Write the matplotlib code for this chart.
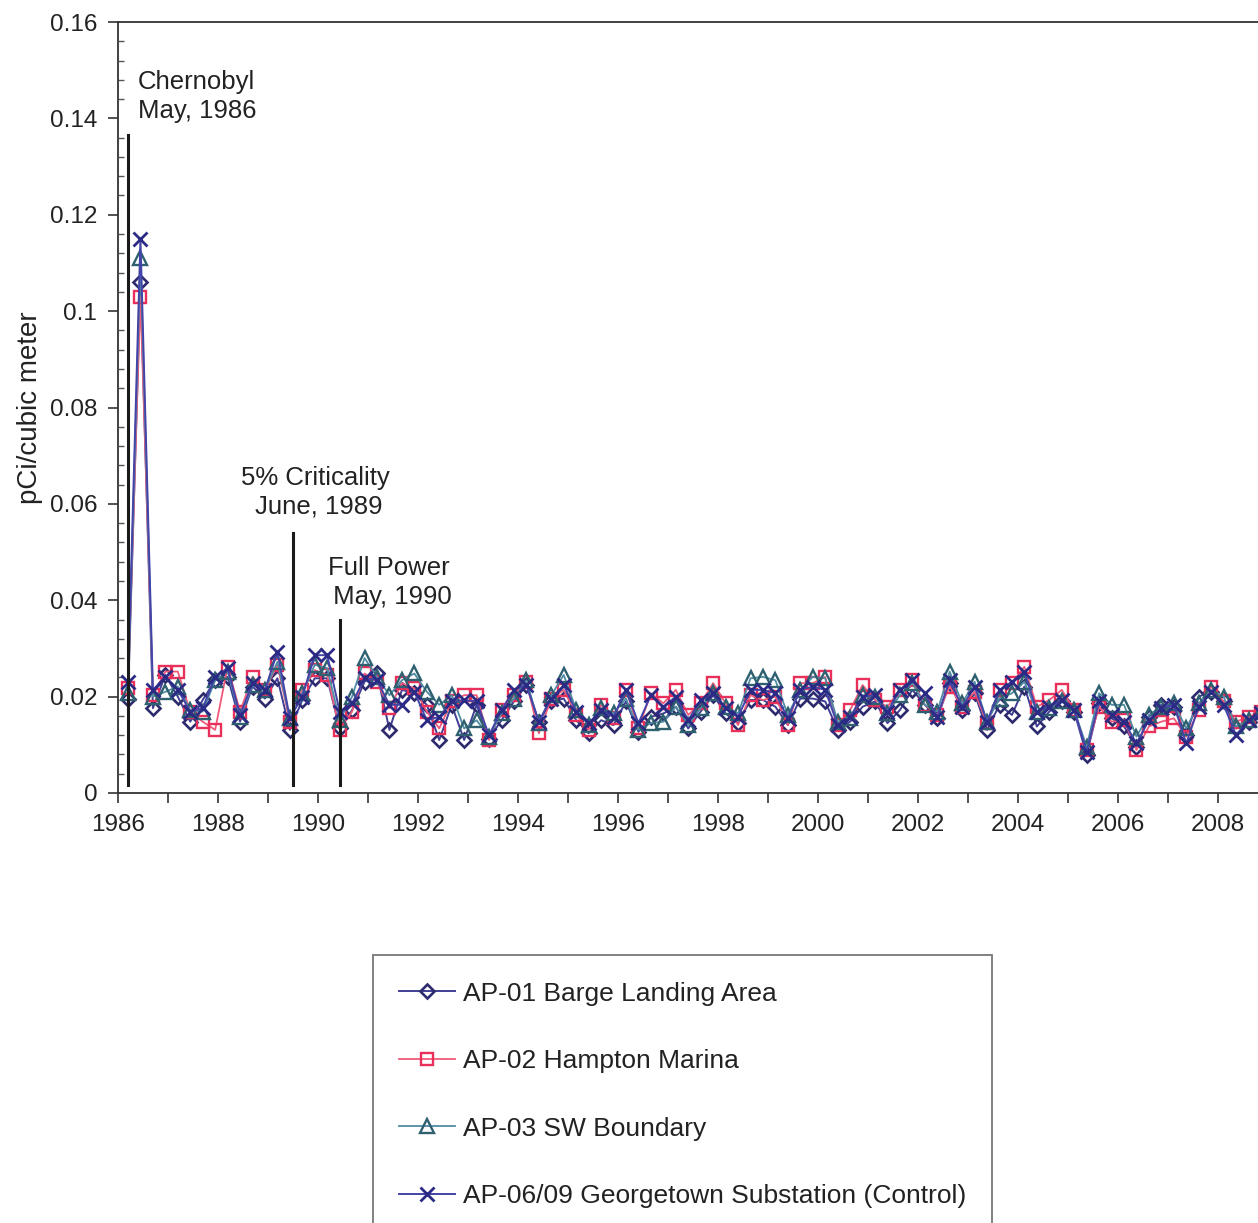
import numpy as np
import matplotlib
matplotlib.use("Agg")
from matplotlib import pyplot as plt
from matplotlib.ticker import MultipleLocator

plt.rcParams['font.family'] = ['Liberation Sans', 'DejaVu Sans']

# quarterly sampling dates (decimal years)
n_pts = 92
years = 1986.2 + 0.249 * np.arange(n_pts)

ap01 = [0.0196, 0.106, 0.0176, 0.0245, 0.0200, 0.0148, 0.0193, 0.0234, 0.0241, 0.0148,
        0.0221, 0.0196, 0.0238, 0.0131, 0.0193, 0.0238, 0.0238, 0.0134, 0.0172, 0.0231,
        0.0248, 0.0131, 0.0214, 0.0207, 0.0183, 0.0110, 0.0183, 0.0110, 0.0183, 0.0113,
        0.0151, 0.0190, 0.0224, 0.0148, 0.0190, 0.0196, 0.0151, 0.0124, 0.0151, 0.0141,
        0.0190, 0.0127, 0.0158, 0.0165, 0.0179, 0.0134, 0.0169, 0.0203, 0.0165, 0.0145,
        0.0193, 0.0193, 0.0179, 0.0141, 0.0196, 0.0196, 0.0190, 0.0131, 0.0148, 0.0179,
        0.0190, 0.0145, 0.0172, 0.0214, 0.0183, 0.0155, 0.0228, 0.0172, 0.0207, 0.0131,
        0.0183, 0.0162, 0.0221, 0.0138, 0.0169, 0.0190, 0.0169, 0.0079, 0.0186, 0.0155,
        0.0138, 0.0096, 0.0158, 0.0183, 0.0179, 0.0120, 0.0200, 0.0210, 0.0190, 0.0134,
        0.0148, 0.0165]
ap02 = [0.0217, 0.103, 0.0203, 0.0252, 0.0252, 0.0169, 0.0148, 0.0131, 0.0262, 0.0169,
        0.0241, 0.0214, 0.0266, 0.0148, 0.0214, 0.0255, 0.0245, 0.0131, 0.0169, 0.0248,
        0.0231, 0.0176, 0.0228, 0.0217, 0.0169, 0.0134, 0.0190, 0.0203, 0.0203, 0.0110,
        0.0172, 0.0203, 0.0231, 0.0124, 0.0196, 0.0214, 0.0162, 0.0131, 0.0183, 0.0155,
        0.0214, 0.0134, 0.0207, 0.0186, 0.0214, 0.0162, 0.0186, 0.0228, 0.0186, 0.0141,
        0.0203, 0.0193, 0.0200, 0.0141, 0.0228, 0.0228, 0.0241, 0.0141, 0.0172, 0.0224,
        0.0193, 0.0179, 0.0214, 0.0234, 0.0183, 0.0162, 0.0221, 0.0179, 0.0210, 0.0145,
        0.0214, 0.0228, 0.0262, 0.0179, 0.0193, 0.0214, 0.0172, 0.0089, 0.0179, 0.0148,
        0.0151, 0.0089, 0.0138, 0.0148, 0.0155, 0.0117, 0.0172, 0.0221, 0.0190, 0.0148,
        0.0158, 0.0169]
ap03 = [0.0207, 0.111, 0.0200, 0.0210, 0.0221, 0.0172, 0.0169, 0.0234, 0.0252, 0.0158,
        0.0224, 0.0214, 0.0272, 0.0155, 0.0207, 0.0266, 0.0259, 0.0151, 0.0200, 0.0280,
        0.0241, 0.0203, 0.0234, 0.0248, 0.0210, 0.0183, 0.0203, 0.0134, 0.0151, 0.0117,
        0.0165, 0.0196, 0.0234, 0.0145, 0.0203, 0.0245, 0.0172, 0.0141, 0.0176, 0.0165,
        0.0196, 0.0131, 0.0145, 0.0148, 0.0179, 0.0141, 0.0176, 0.0207, 0.0179, 0.0165,
        0.0238, 0.0241, 0.0234, 0.0162, 0.0214, 0.0241, 0.0238, 0.0148, 0.0155, 0.0203,
        0.0200, 0.0165, 0.0203, 0.0228, 0.0183, 0.0169, 0.0252, 0.0186, 0.0231, 0.0148,
        0.0196, 0.0207, 0.0231, 0.0169, 0.0176, 0.0190, 0.0172, 0.0096, 0.0207, 0.0183,
        0.0183, 0.0117, 0.0162, 0.0179, 0.0186, 0.0134, 0.0186, 0.0214, 0.0200, 0.0138,
        0.0151, 0.0169]
ap06 = [0.0231, 0.115, 0.0214, 0.0241, 0.0214, 0.0169, 0.0176, 0.0241, 0.0259, 0.0162,
        0.0228, 0.0214, 0.0293, 0.0155, 0.0200, 0.0286, 0.0286, 0.0169, 0.0186, 0.0238,
        0.0234, 0.0183, 0.0183, 0.0210, 0.0151, 0.0158, 0.0190, 0.0193, 0.0190, 0.0120,
        0.0172, 0.0214, 0.0224, 0.0148, 0.0196, 0.0224, 0.0169, 0.0145, 0.0172, 0.0158,
        0.0214, 0.0145, 0.0203, 0.0179, 0.0200, 0.0151, 0.0193, 0.0207, 0.0176, 0.0158,
        0.0214, 0.0214, 0.0207, 0.0155, 0.0214, 0.0221, 0.0214, 0.0141, 0.0158, 0.0200,
        0.0203, 0.0169, 0.0214, 0.0234, 0.0207, 0.0158, 0.0234, 0.0179, 0.0221, 0.0148,
        0.0214, 0.0231, 0.0252, 0.0169, 0.0179, 0.0193, 0.0172, 0.0086, 0.0190, 0.0162,
        0.0148, 0.0103, 0.0151, 0.0176, 0.0183, 0.0103, 0.0179, 0.0210, 0.0183, 0.0120,
        0.0151, 0.0165]

labels = ["AP-01 Barge Landing Area", "AP-02 Hampton Marina",
          "AP-03 SW Boundary", "AP-06/09 Georgetown Substation (Control)"]

yticks = [0, 0.02, 0.04, 0.06, 0.08, 0.10, 0.12, 0.14, 0.16]
ytick_labels = ["0", "0.02", "0.04", "0.06", "0.08", "0.1", "0.12", "0.14", "0.16"]

# event markers: (x, top of line, text, text x, text y, alignment)
events = [
    (1986.2, 0.1365, "Chernobyl\nMay, 1986", 1986.4, 0.1446, "left"),
    (1989.5, 0.054, "5% Criticality\n June, 1989", 1989.94, 0.0624, "center"),
    (1990.44, 0.036, "Full Power\n May, 1990", 1991.42, 0.0437, "center"),
]

fig = plt.figure(figsize=(12.58, 12.23), dpi=100)
ax = fig.add_axes([0.0938, 0.3516, 0.9062, 0.6304])

ax.plot(years, ap01, color="#403f95", lw=1.4, marker="D", ms=7.5, mfc="none",
        mec="#2e2a6e", mew=1.9, label=labels[0])
ax.plot(years, ap02, color="#f05a7a", lw=1.3, marker="s", ms=9, mfc="none",
        mec="#e8305a", mew=1.7, label=labels[1])
ax.plot(years, ap03, color="#4f8ca4", lw=1.3, marker="^", ms=9.5, mfc="none",
        mec="#2f6070", mew=1.7, label=labels[2])
ax.plot(years, ap06, color="#4444a8", lw=1.4, marker="x", ms=10, mfc="none",
        mec="#2b2b85", mew=2.0, label=labels[3])

for (xv, top, txt, tx, ty, ha) in events:
    ax.plot([xv, xv], [0.0017, top], color="#1a1a1a", lw=2.2)
    ax.text(tx, ty, txt, ha=ha, va="center", fontsize=18.5, color="#222222",
            multialignment=ha, linespacing=1.25)

ax.set_xlim(1986, 2008.8)
ax.set_ylim(0, 0.16)
ax.set_xticks(np.arange(1986, 2009, 1))
ax.set_xticklabels([str(y) if y % 2 == 0 else "" for y in range(1986, 2009)])
ax.set_yticks(yticks)
ax.set_yticklabels(ytick_labels)
ax.yaxis.set_minor_locator(MultipleLocator(0.004))
ax.tick_params(axis="both", which="major", labelsize=17.5, length=7, width=1.2,
               direction="out", colors="#333333", labelcolor="#222222", pad=8)
ax.tick_params(axis="y", which="minor", length=4, width=1.0, direction="in",
               colors="#555555")
ax.set_ylabel("pCi/cubic meter", fontsize=20, color="#222222")
ax.yaxis.set_label_coords(-0.066, 0.5)

for side in ["left", "bottom", "top"]:
    ax.spines[side].set_color("#333333")
    ax.spines[side].set_linewidth(1.3)
ax.spines["right"].set_visible(False)

leg = fig.legend(loc="upper left", bbox_to_anchor=(0.2965, 0.219), fontsize=19,
                 frameon=True, fancybox=False, edgecolor="#555555",
                 labelspacing=1.65, handlelength=2.1, handletextpad=0.3,
                 borderpad=1.0, borderaxespad=0)
leg.get_frame().set_linewidth(1.3)
for t in leg.get_texts():
    t.set_color("#222222")

fig.savefig("out.png", dpi=100)
